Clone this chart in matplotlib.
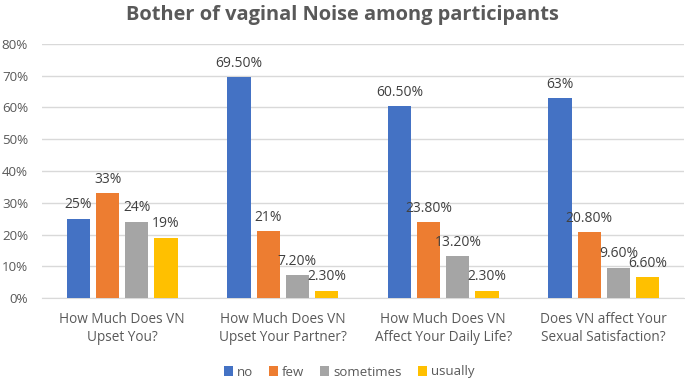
import matplotlib
matplotlib.use("Agg")
import matplotlib.pyplot as plt
import numpy as np

categories = ["How Much Does VN\nUpset You?", "How Much Does VN\nUpset Your Partner?",
              "How Much Does VN\nAffect Your Daily Life?", "Does VN affect Your\nSexual Satisfaction?"]
series_names = ["no", "few", "sometimes", "usually"]
no_vals = [25, 69.5, 60.5, 63]
few_vals = [33, 21, 23.8, 20.8]
sometimes_vals = [24, 7.2, 13.2, 9.6]
usually_vals = [19, 2.3, 2.3, 6.6]
no_labels = ["25%", "69.50%", "60.50%", "63%"]
few_labels = ["33%", "21%", "23.80%", "20.80%"]
sometimes_labels = ["24%", "7.20%", "13.20%", "9.60%"]
usually_labels = ["19%", "2.30%", "2.30%", "6.60%"]
y_ticks = [0, 10, 20, 30, 40, 50, 60, 70, 80]

colors = ["#4472C4", "#ED7D31", "#A5A5A5", "#FFC000"]
plt.rcParams['font.family'] = ['Open Sans', 'DejaVu Sans']

fig = plt.figure(figsize=(6.85, 3.8), dpi=100)
ax = fig.add_axes([42/685, 1-298/380, (684-42)/685, (298-44)/380])

x = np.arange(len(categories))
step = 0.182
width = 0.145
all_vals = [no_vals, few_vals, sometimes_vals, usually_vals]
all_labels = [no_labels, few_labels, sometimes_labels, usually_labels]
for i, (vals, labs) in enumerate(zip(all_vals, all_labels)):
    pos = x + (i - 1.5) * step
    ax.bar(pos, vals, width, color=colors[i], label=series_names[i], zorder=3)
    for p, v, l in zip(pos, vals, labs):
        ax.text(p, v + 2.0, l, ha="center", va="bottom", fontsize=10, color="#404040", zorder=4)

ax.set_xlim(-0.5, 3.5)
ax.set_ylim(0, 80)
ax.set_yticks(y_ticks)
ax.set_yticklabels([f"{t}%" for t in y_ticks])
ax.yaxis.grid(True, color="#D9D9D9", linewidth=1, zorder=0)
ax.set_xticks(x)
ax.set_xticklabels(categories, fontsize=9.8, color="#595959", linespacing=1.3)
ax.tick_params(axis="y", labelsize=9.6, labelcolor="#595959", length=0, pad=10)
ax.tick_params(axis="x", length=0, pad=10)
for s in ["top", "right", "left"]:
    ax.spines[s].set_visible(False)
ax.spines["bottom"].set_color("#D9D9D9")

fig.text(0.5, 1-15/380, "Bother of vaginal Noise among participants", ha="center", va="center",
         fontsize=14.4, fontweight="bold", color="#595959")

fig.legend(loc="center", bbox_to_anchor=(349/685, 1-372/380), ncol=4, frameon=False,
           fontsize=9.5, labelcolor="#595959", handlelength=0.7, handleheight=0.7,
           handletextpad=0.3, columnspacing=1.2)

fig.savefig("out.png", dpi=100)
